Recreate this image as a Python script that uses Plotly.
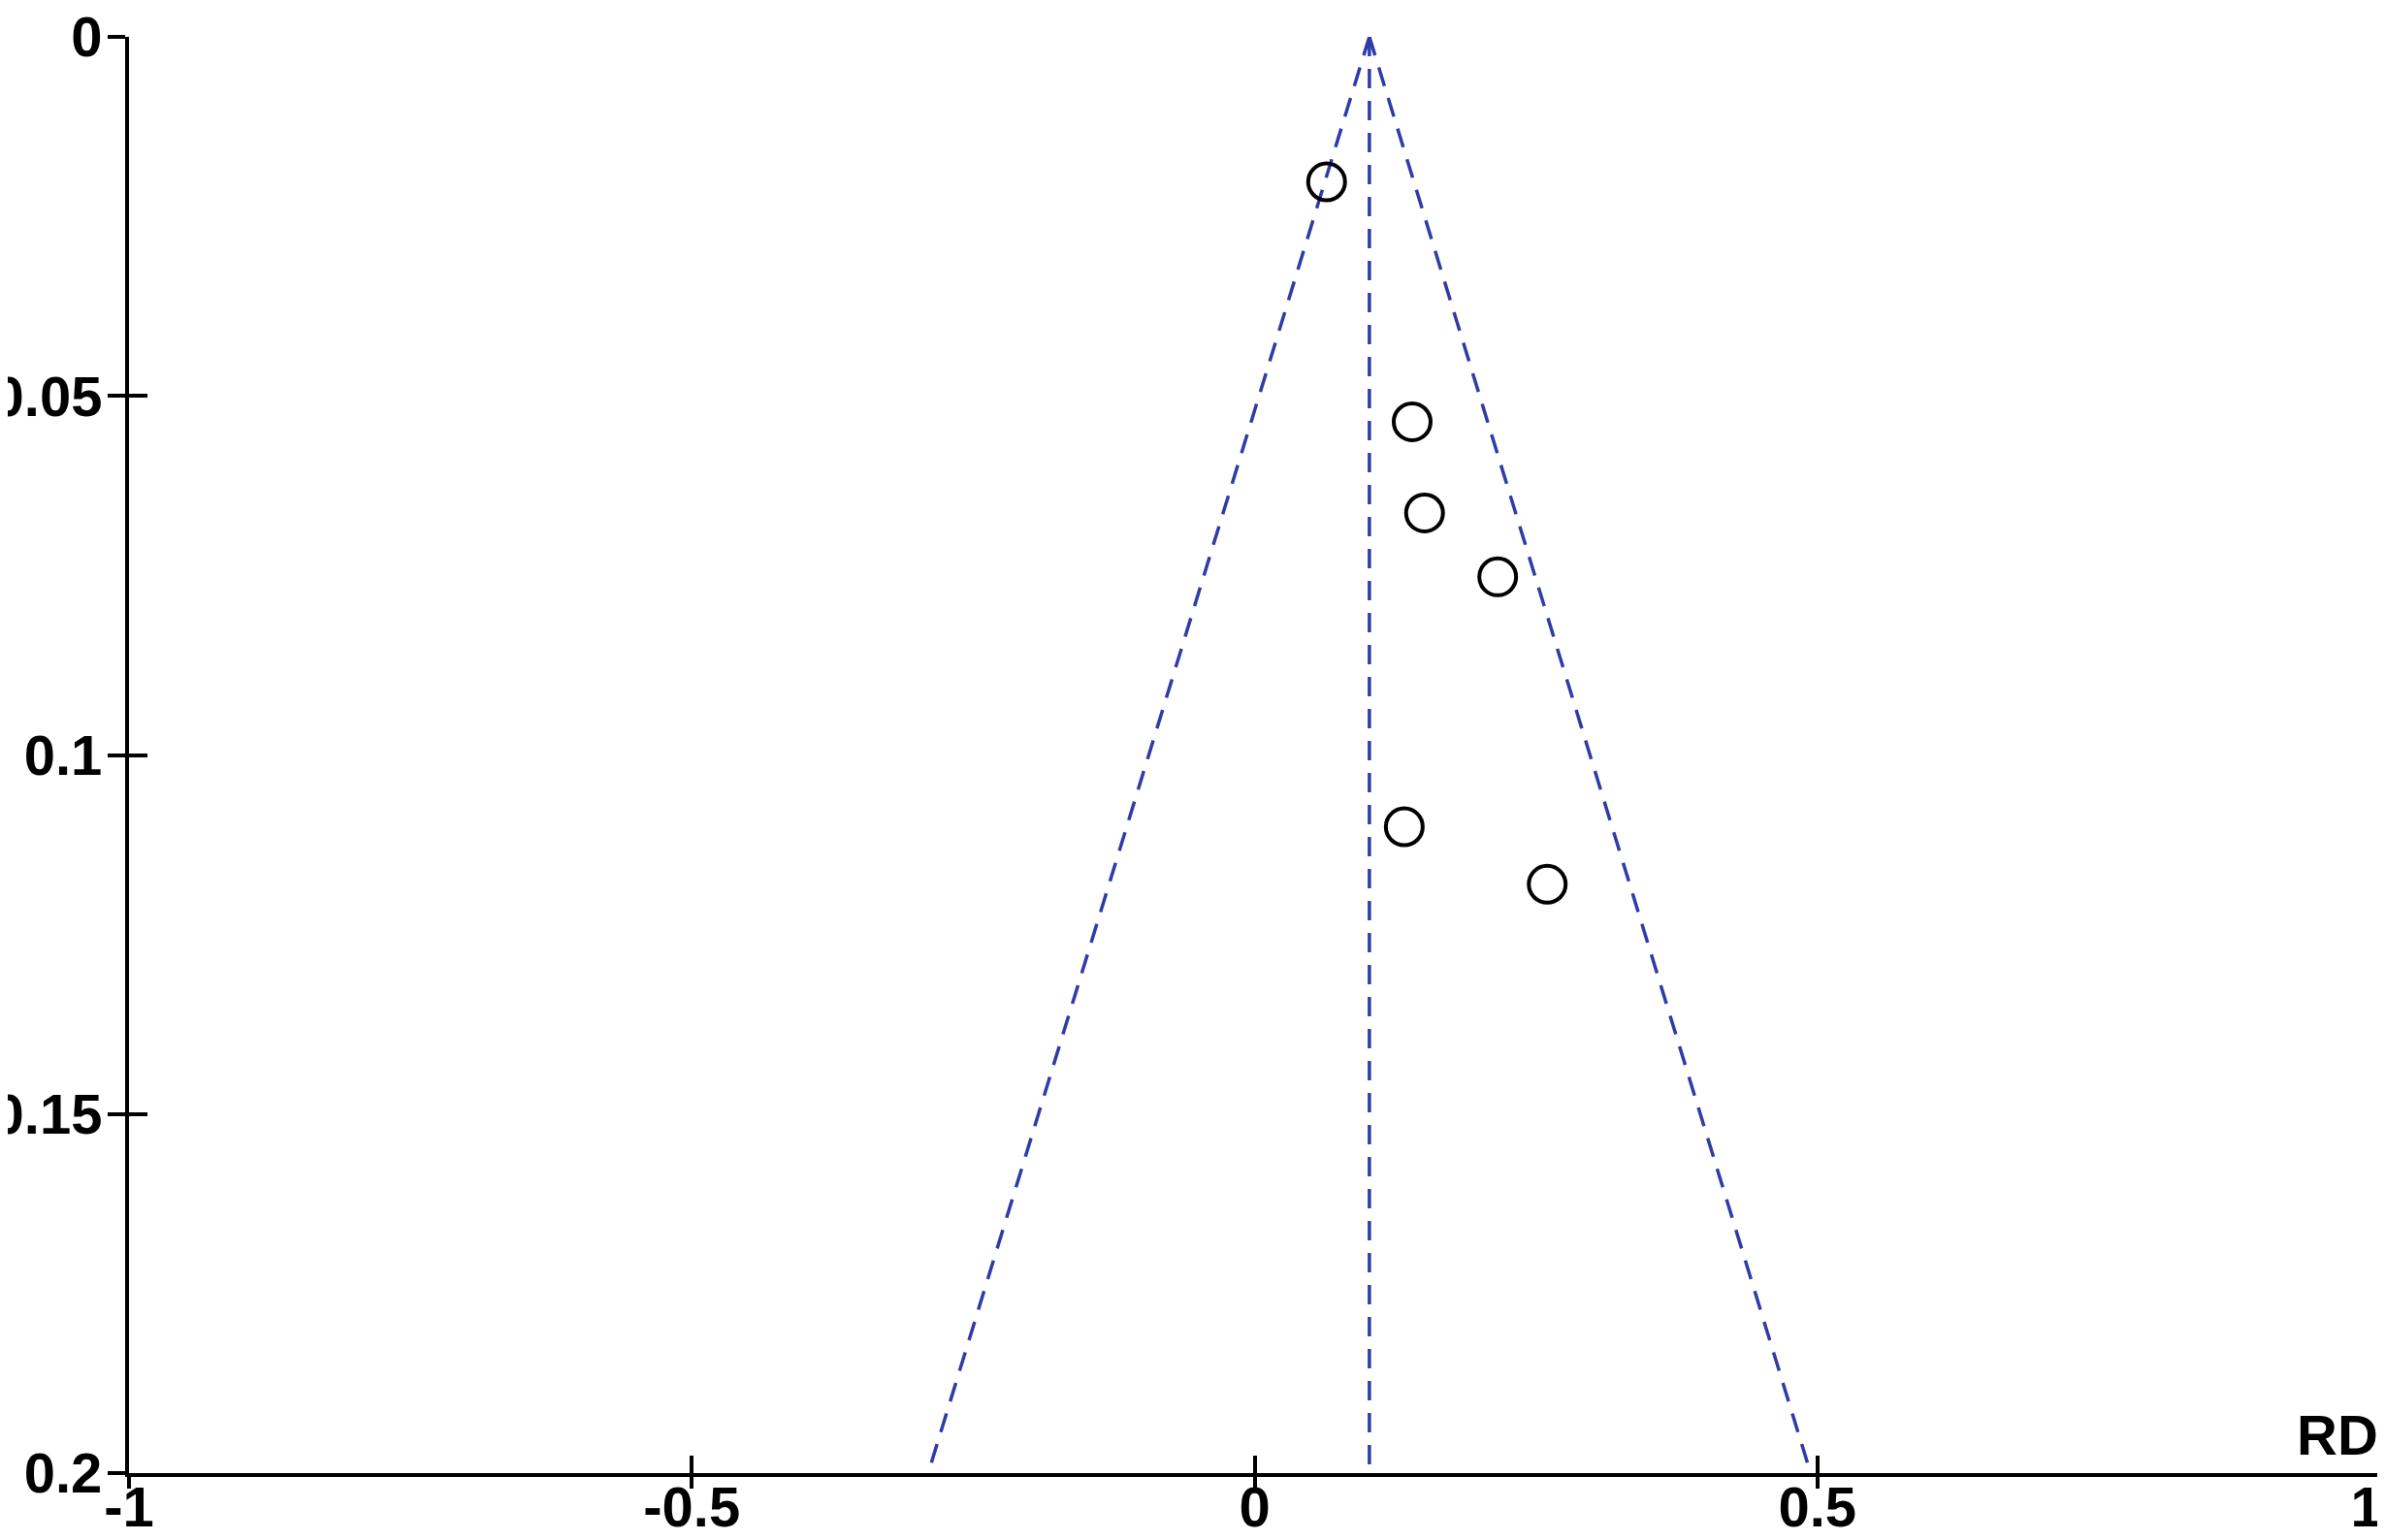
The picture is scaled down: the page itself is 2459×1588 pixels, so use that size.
import plotly.graph_objects as go

# study estimates (risk difference) and their standard errors
rd = [0.064, 0.140, 0.151, 0.216, 0.133, 0.260]
se = [0.0202, 0.0536, 0.0663, 0.0752, 0.110, 0.118]

# pooled estimate and pseudo 95% confidence limits of the funnel
pooled = 0.102
funnel_se = [0.0, 0.2]
funnel_left = [0.102, -0.29]
funnel_right = [0.102, 0.494]

x_ticks = [-1, -0.5, 0, 0.5, 1]
x_ticktext = ["-1", "-0.5", "0", "0.5", "1\u2002"]
y_ticks = [0, 0.05, 0.1, 0.15, 0.2]
y_ticktext = ["0", "0.05", "0.1", "0.15", "0.2"]

BLUE = "#2F3CA8"
DASH = "20px,13px"
FONT = dict(family="Liberation Sans, Arial, Helvetica", size=58, color="black", weight="bold")

fig = go.Figure()

fig.add_trace(go.Scatter(x=funnel_left, y=funnel_se, mode="lines",
                         line=dict(color=BLUE, width=3.5, dash=DASH), hoverinfo="skip"))
fig.add_trace(go.Scatter(x=funnel_right, y=funnel_se, mode="lines",
                         line=dict(color=BLUE, width=3.5, dash=DASH), hoverinfo="skip"))
fig.add_trace(go.Scatter(x=[pooled, pooled], y=funnel_se, mode="lines",
                         line=dict(color=BLUE, width=3.5, dash=DASH), hoverinfo="skip"))

fig.add_trace(go.Scatter(x=rd, y=se, mode="markers",
                         marker=dict(symbol="circle-open", size=38, color="black",
                                     line=dict(width=4, color="black"))))

# invisible traces so the overlay axes (inner tick halves) get drawn
fig.add_trace(go.Scatter(x=[0], y=[0.1], xaxis="x2", yaxis="y", mode="markers",
                         marker=dict(opacity=0), hoverinfo="skip"))
fig.add_trace(go.Scatter(x=[0], y=[0.1], xaxis="x", yaxis="y2", mode="markers",
                         marker=dict(opacity=0), hoverinfo="skip"))

# page body adds an 8px offset, so the figure is 8px smaller than the window
fig.update_layout(
    width=2451, height=1580,
    template="none",
    paper_bgcolor="white", plot_bgcolor="white",
    showlegend=False,
    margin=dict(l=125, r=5, t=30, b=69),
    xaxis=dict(range=[-1, 1], tickvals=x_ticks, ticktext=x_ticktext,
               showgrid=False, zeroline=False, showline=True, linecolor="black", linewidth=4,
               ticks="outside", ticklen=12, tickwidth=4, tickcolor="black",
               tickfont=FONT, ticklabelstandoff=-31, ticklabeloverflow="allow",
               automargin=False, anchor="y"),
    xaxis2=dict(range=[-1, 1], tickvals=x_ticks, overlaying="x", anchor="y", side="bottom",
                showgrid=False, zeroline=False, showline=False, showticklabels=False,
                ticks="inside", ticklen=18, tickwidth=4, tickcolor="black", automargin=False),
    yaxis=dict(range=[0.2, 0], tickvals=y_ticks, ticktext=y_ticktext,
               showgrid=False, zeroline=False, showline=True, linecolor="black", linewidth=4,
               ticks="outside", ticklen=18, tickwidth=4, tickcolor="black",
               tickfont=FONT, ticklabelstandoff=-6, ticklabeloverflow="allow",
               automargin=False, anchor="x"),
    yaxis2=dict(range=[0.2, 0], tickvals=y_ticks, overlaying="y", anchor="x", side="left",
                showgrid=False, zeroline=False, showline=False, showticklabels=False,
                ticks="inside", ticklen=19, tickwidth=4, tickcolor="black", automargin=False),
)

fig.add_annotation(text="RD", x=1, y=0.2, xref="paper", yref="y",
                   xanchor="right", yanchor="bottom", showarrow=False,
                   yshift=5, font=FONT)

fig.write_html("out.html")
